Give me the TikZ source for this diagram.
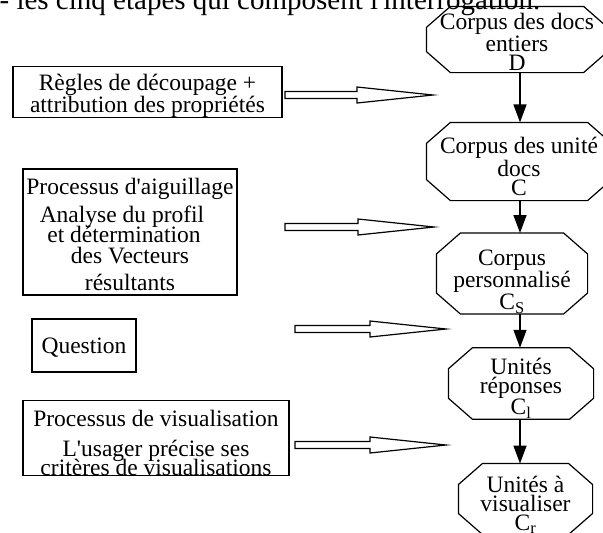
\documentclass[tikz,border=0pt]{standalone}
\usepackage{fontspec}
\setmainfont{Liberation Serif}
\usepackage{tikz}
\usetikzlibrary{calc}
\usetikzlibrary{arrows.meta}
\tikzset{>={Triangle[length=18pt,width=13pt]}}
\tikzset{
	txt/.style={font=\fontsize{23.5}{19}\selectfont,align=center,inner sep=0pt},
	box/.style={txt,draw},
}
% room above the first line
\newcommand{\haut}[1]{\rule{0pt}{#1pt}}
% octagon round a node: corner cuts
\def\chx{24}
\def\chy{21}
\newcommand{\octframe}[1]{%
	\draw ($(#1.north west)+(\chx,0)$) -- ($(#1.north east)+(-\chx,0)$) -- ($(#1.north east)+(0,\chy)$)
		-- ($(#1.south east)+(0,-\chy)$) -- ($(#1.south east)+(-\chx,0)$) -- ($(#1.south west)+(\chx,0)$)
		-- ($(#1.south west)+(0,-\chy)$) -- ($(#1.north west)+(0,\chy)$) -- cycle;}
% hollow arrow from #1 to tip #2
\newcommand{\hollowarrow}[2]{%
	\draw ($(#1)+(0,-3.5)$) -- ($(#2)+(-76,-3.5)$) -- ($(#2)+(-76,-8)$) -- (#2)
		-- ($(#2)+(-76,8)$) -- ($(#2)+(-76,3.5)$) -- ($(#1)+(0,3.5)$) -- cycle;}

\begin{document}
\begin{tikzpicture}[x=1pt,y=-1pt,line width=1.2pt]
	\useasboundingbox (0,0) rectangle (603,533);
	\clip (0,0) rectangle (603,533);
	\node[anchor=base east,inner sep=0pt,font=\fontsize{29}{29}\selectfont] (titre) at (541,9) {- les cinq étapes qui composent l\textquotesingle interrogation.};
	% boxes on the left
	\node[box,minimum width=269pt,minimum height=50pt] (regles) at (147.5,92) {\haut{24}Règles de découpage +\\attribution des propriétés};
	\node[box,minimum width=214pt,minimum height=126pt] (aiguillage) at (130,232) {\haut{22}Processus d\textquotesingle aiguillage\\[5pt]Analyse du profil\kern16pt\\[-2pt]et détermination\kern12pt\\[2pt]des Vecteurs\\[8pt]résultants};
	\node[box,minimum width=104pt,minimum height=53pt] (question) at (84,345.5) {\haut{20}Question};
	\node[box,minimum width=266pt,minimum height=70pt] (visu) at (156,438) {\haut{26}Processus de visualisation\\[11pt]L\textquotesingle usager précise ses\\[-4pt]critères de visualisations};
	% octagons on the right
	\node[txt,minimum width=180pt,minimum height=65pt] (docs) at (517,39.5) {\haut{21}Corpus des docs\\entiers\\D};
	\octframe{docs}
	\node[txt,minimum width=184pt,minimum height=77pt] (unites) at (519,161.5) {\haut{26}Corpus des unité\\docs\\C};
	\octframe{unites}
	\node[txt,minimum width=150pt,minimum height=67pt] (perso) at (512,273.5) {\haut{32}Corpus\\personnalisé\\C\textsubscript{S}};
	\octframe{perso}
	\node[txt,minimum width=144pt,minimum height=65pt] (reponses) at (521,383.5) {\haut{26}Unités\\réponses\\C\textsubscript{l}};
	\octframe{reponses}
	\node[txt,minimum width=133pt,minimum height=66pt] (visuel) at (525.5,499) {\haut{28}Unités à\\visualiser\\C\textsubscript{r}};
	\octframe{visuel}
	% chain
	\coordinate (axe) at (520,0);
	\draw[->,line width=1.5pt] (docs.south -| axe) -- (unites.north -| axe);
	\draw[->,line width=1.5pt] (unites.south -| axe) -- (perso.north -| axe);
	\draw[->,line width=1.5pt] (perso.south -| axe) -- (reponses.north -| axe);
	\draw[->,line width=1.5pt] (reponses.south -| axe) -- (visuel.north -| axe);
	% hollow arrows
	\coordinate (a1) at (285,95);
	\coordinate (t1) at (433,95);
	\coordinate (a2) at (285,227);
	\coordinate (t2) at (434,227);
	\coordinate (a3) at (295,329);
	\coordinate (t3) at (446,329);
	\coordinate (a4) at (295,445);
	\coordinate (t4) at (446,445);
	\hollowarrow{a1}{t1}
	\hollowarrow{a2}{t2}
	\hollowarrow{a3}{t3}
	\hollowarrow{a4}{t4}
\end{tikzpicture}
\end{document}
